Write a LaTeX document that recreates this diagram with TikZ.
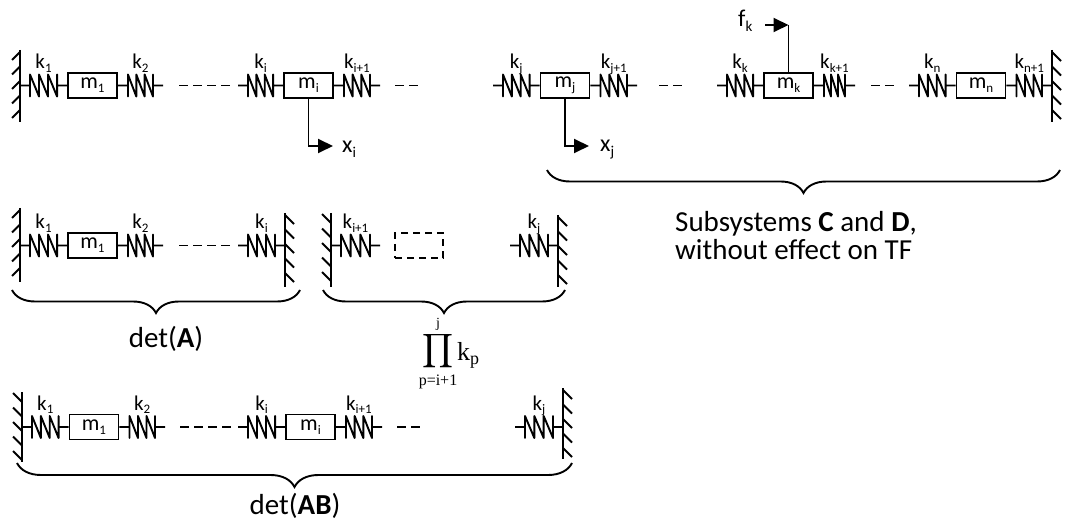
\documentclass[tikz,border=0pt]{standalone}
\usepackage{fontspec}
\usepackage{graphicx}
\setmainfont{Carlito}
\newfontfamily\serif{Liberation Serif}
\usetikzlibrary{calc,arrows.meta,decorations.pathreplacing}
\newcommand\sub[2][13]{\raisebox{-0.18em}{\fontsize{#1}{#1}\selectfont #2}}
\newcommand\wallv[6]{%
  \draw[line width=2.4pt] (#1,#2) -- (#1,#3);
  \foreach \hk in {0,...,4} \draw[line width=1.8pt] (#1,#2+#6+\hk*14.5) -- ++(#4,#5);
}
\newcommand\spr[4]{%
  \draw[spring] (#1) to (#2);
  \node[klab] (#3) at ($(#1)!.5!(#2)+(0,-17)$) {#4};
}
\newcommand\prodstack{\vbox{\offinterlineskip
  \hbox to 40pt{\hss\serif\fontsize{14}{14}\selectfont j\hss}\kern2pt
  \hbox to 40pt{\hss\resizebox*{31pt}{38pt}{$\displaystyle\prod$}\hss}\kern4pt
  \hbox to 40pt{\hss\serif\fontsize{16}{16}\selectfont p=i+1\hss}}}
\tikzset{
  lw/.style={line width=1.9pt},
  mass/.style={draw, line width=1.9pt, minimum width=49pt, minimum height=25pt, inner sep=0pt, font=\fontsize{22}{22}\selectfont},
  ghost/.style={draw, dash pattern=on 7pt off 5pt, line width=1.9pt, minimum width=48pt, minimum height=25pt, inner sep=0pt},
  klab/.style={anchor=base, inner sep=0pt, font=\fontsize{21}{21}\selectfont},
  dashline/.style={line width=1.9pt, dash pattern=on 9pt off 5pt},
  spring/.style={line width=1.9pt, line join=round, to path={let \p1=(\tikztostart), \p2=(\tikztotarget), \n1={(\x2-\x1-20pt)/3} in
     -- (\x1+10pt,\y1) -- (\x1+10pt,\y1-11pt) -- (\x1+10pt,\y1+11pt)
     -- (\x1+10pt+\n1,\y1-11pt) -- (\x1+10pt+\n1,\y1+11pt)
     -- (\x1+10pt+2*\n1,\y1-11pt) -- (\x1+10pt+2*\n1,\y1+11pt)
     -- (\x2-10pt,\y1-11pt) -- (\x2-10pt,\y1+11pt) -- (\x2-10pt,\y1) -- (\tikztotarget)}},
  brc/.style={decorate, decoration={brace, mirror, amplitude=#1}, line width=1.9pt},
  brc/.default=23pt,
  arr/.style={line width=1.9pt, -{Triangle[length=15pt,width=14pt]}},
  big/.style={font=\fontsize{29}{34}\selectfont, inner sep=0pt},
  vlab/.style={anchor=base west, inner sep=0pt, font=\fontsize{24}{24}\selectfont},
}
\begin{document}
\begin{tikzpicture}[x=1pt,y=-1pt]
\useasboundingbox (0,0) rectangle (1068,529);
% ---------------- Row 1 ----------------
\wallv{20}{50}{122}{-8}{8}{2}
\coordinate (aW) at (20,85.5);
\node[mass] (aM1) at (92.5,85.5) {m\sub{1}};
\coordinate (aS2) at (163,85.5);
\coordinate (aD1) at (179,85.5); \coordinate (aD2) at (230,85.5);
\coordinate (aSi) at (238,85.5);
\node[mass] (aMi) at (308.5,85.5) {m\sub{i}};
\coordinate (aSi1) at (380,85.5);
\coordinate (aD3) at (395,85.5); \coordinate (aD4) at (418,85.5);
\coordinate (aSj) at (493,85.5);
\node[mass] (aMj) at (565,85.5) {m\sub{j}};
\coordinate (aSj1) at (637,85.5);
\coordinate (aD5) at (659,85.5); \coordinate (aD6) at (682,85.5);
\coordinate (aSk) at (717,85.5);
\node[mass] (aMk) at (788.5,85.5) {m\sub{k}};
\coordinate (aSk1) at (855,85.5);
\coordinate (aD7) at (871,85.5); \coordinate (aD8) at (894,85.5);
\coordinate (aSn) at (909,85.5);
\node[mass] (aMn) at (981,85.5) {m\sub{n}};
\coordinate (aWR) at (1052,85.5);
\wallv{1052}{50}{122}{9}{9}{2}
\spr{aW}{aM1.west}{ak1}{k\sub{1}}
\spr{aM1.east}{aS2}{ak2}{k\sub{2}}
\spr{aSi}{aMi.west}{aki}{k\sub{i}}
\spr{aMi.east}{aSi1}{aki1}{k\sub{i+1}}
\spr{aSj}{aMj.west}{akj}{k\sub{j}}
\spr{aMj.east}{aSj1}{akj1}{k\sub{j+1}}
\spr{aSk}{aMk.west}{akk}{k\sub{k}}
\spr{aMk.east}{aSk1}{akk1}{k\sub{k+1}}
\spr{aSn}{aMn.west}{akn}{k\sub{n}}
\spr{aMn.east}{aWR}{akn1}{k\sub{n+1}}
\draw[dashline] (aD1) -- (aD2);
\draw[dashline] (aD3) -- (aD4);
\draw[dashline] (aD5) -- (aD6);
\draw[dashline] (aD7) -- (aD8);
\coordinate (aXi) at (333,146);
\draw[arr] (aMi.south) |- (aXi);
\node[vlab] (lxi) at (342,153) {x\sub[15]{i}};
\coordinate (aXj) at (589,146);
\draw[arr] (aMj.south) |- (aXj);
\node[vlab] (lxj) at (600,152) {x\sub[15]{j}};
\coordinate (aFt) at (788.5,25);
\coordinate (aF0) at (765,25);
\draw[lw] (aMk.north) -- (aFt);
\draw[arr] (aF0) -- (aFt);
\node[vlab] (lfk) at (738,27) {f\sub[15]{k}};
\draw[brc] (547,170) -- (1060,170);
\node[big, anchor=base west] (t1) at (675,232) {Subsystems \textbf{C} and \textbf{D},};
\node[big, anchor=base west] (t2) at (675,260) {without effect on TF};
% ---------------- Row 2 ----------------
\wallv{20}{208}{282}{-8}{8}{2}
\coordinate (bW) at (20,245.5);
\node[mass] (bM1) at (92.5,245.5) {m\sub{1}};
\coordinate (bS2) at (163,245.5);
\coordinate (bD1) at (179,245.5); \coordinate (bD2) at (230,245.5);
\coordinate (bSi) at (238,245.5);
\coordinate (bWR) at (285,245.5);
\wallv{285}{213}{287}{9}{9}{2}
\wallv{331}{213}{287}{-9}{-9}{10}
\coordinate (bWM) at (331,245.5);
\coordinate (bSi1) at (380,245.5);
\node[ghost] (bG) at (419,245.5) {};
\coordinate (bSj) at (510,245.5);
\coordinate (bWR2) at (558,245.5);
\wallv{558}{215}{287}{9}{9}{2}
\spr{bW}{bM1.west}{bk1}{k\sub{1}}
\spr{bM1.east}{bS2}{bk2}{k\sub{2}}
\spr{bSi}{bWR}{bki}{k\sub{i}}
\spr{bWM}{bSi1}{bki1}{k\sub{i+1}}
\spr{bSj}{bWR2}{bkj}{k\sub{j}}
\draw[dashline] (bD1) -- (bD2);
\draw[brc] (12,290) -- (300,290);
\draw[brc] (323,290) -- (565,290);
\node[big, anchor=base] (detA) at (166,347) {det(\textbf{A})};
\node[inner sep=0pt, anchor=north] (prod) at (438,318) {\prodstack};
\node[inner sep=0pt, anchor=base west, font=\serif\fontsize{26}{26}\selectfont] (kp) at (457,360) {k\sub[18]{p}};
% ---------------- Row 3 ----------------
\wallv{22}{392}{462}{-9}{-9}{10}
\coordinate (cW) at (22,427);
\node[mass] (cM1) at (94,427) {m\sub{1}};
\coordinate (cS2) at (165,427);
\coordinate (cD1) at (180,427); \coordinate (cD2) at (231,427);
\coordinate (cSi) at (238,427);
\node[mass] (cMi) at (310.5,427) {m\sub{i}};
\coordinate (cSi1) at (382,427);
\coordinate (cD3) at (397,427); \coordinate (cD4) at (420,427);
\coordinate (cSj) at (515,427);
\coordinate (cWR) at (563,427);
\wallv{563}{388}{459}{9}{9}{2}
\spr{cW}{cM1.west}{ck1}{k\sub{1}}
\spr{cM1.east}{cS2}{ck2}{k\sub{2}}
\spr{cSi}{cMi.west}{cki}{k\sub{i}}
\spr{cMi.east}{cSi1}{cki1}{k\sub{i+1}}
\spr{cSj}{cWR}{ckj}{k\sub{j}}
\draw[dashline] (cD1) -- (cD2);
\draw[dashline] (cD3) -- (cD4);
\draw[brc=24pt] (17,463) -- (572,463);
\node[big, anchor=base] (detAB) at (295,514) {det(\textbf{AB})};
\end{tikzpicture}
\end{document}
